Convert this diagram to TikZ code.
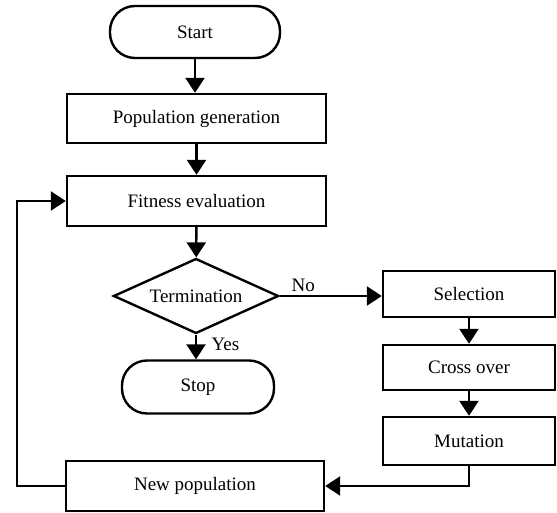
\documentclass[tikz,border=0pt]{standalone}
\usepackage{fontspec}
\setmainfont{Liberation Serif}
\usepackage{tikz}
\usetikzlibrary{arrows.meta,shapes.geometric}

\begin{document}
\begin{tikzpicture}[x=1pt, y=-1pt, line width=2.4pt,
    font=\fontsize{19}{22}\selectfont,
    procbox/.style={draw, rectangle, inner sep=0pt},
    endbox/.style={draw, rectangle, rounded corners=25pt, inner sep=0pt},
    testbox/.style={draw, diamond, aspect=2.2, inner sep=0pt},
    flow/.style={-{Triangle[length=15pt,width=19pt]}}]
    \useasboundingbox (0,0) rectangle (557,513);

    %main column
    \node[endbox, minimum width=170, minimum height=52] (start) at (195,32) {Start};
    \node[procbox, minimum width=259, minimum height=49] (popgen) at (196.5,118.5) {Population generation};
    \node[procbox, minimum width=259, minimum height=50] (fitness) at (196.5,201) {Fitness evaluation};
    \node[testbox, minimum width=165, minimum height=75] (termination) at (196,296) {Termination};
    \node[endbox, minimum width=152, minimum height=53] (stop) at (198,387) {Stop};
    \node[procbox, minimum width=258, minimum height=50] (newpop) at (195,486) {New population};

    %operators
    \node[procbox, minimum width=172, minimum height=46] (selection) at (469,294) {Selection};
    \node[procbox, minimum width=172, minimum height=45] (crossover) at (469,367.5) {Cross over};
    \node[procbox, minimum width=172, minimum height=48] (mutation) at (469,441) {Mutation};

    \coordinate (loopL) at (17,487);

    \path[draw,flow] (start)--(start |- popgen.north);
    \path[draw,flow] (popgen)--(popgen |- fitness.north);
    \path[draw,flow] (fitness)--(termination);
    \path[draw,flow] (termination.east)--node[above, pos=0.23]{No}(selection.west |- termination.east);
    \path[draw,flow] (termination.south)--node[right=11pt, pos=0.4]{Yes}(termination.south |- stop.north);
    \path[draw,flow] (selection)--(crossover);
    \path[draw,flow] (crossover)--(mutation);
    \path[draw,flow] (mutation.south) |- (newpop.east);
    \path[draw,flow] (newpop.west)--(newpop.west -| loopL) |- (fitness.west);
  \end{tikzpicture}
\end{document}
